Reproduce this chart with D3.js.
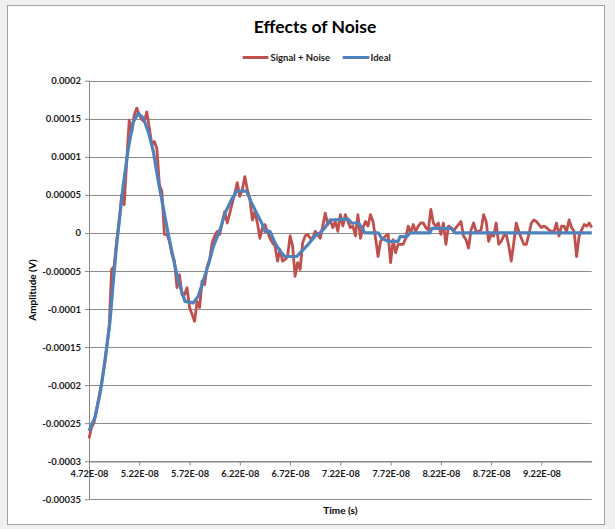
<!DOCTYPE html>
<html><head><meta charset="utf-8">
<script src="https://cdn.jsdelivr.net/npm/d3@7"></script>
<style>
html,body{margin:0;padding:0;background:#fff;}
svg{display:block;font-family:Lato,"Open Sans",sans-serif;}
</style>
</head><body>
<svg id="chart" width="615" height="529"></svg>
<script>
// ---------- data ----------
const chartTitle = "Effects of Noise";
const seriesNames = ["Signal + Noise", "Ideal"];
const seriesColors = ["#C0504D", "#4F81BD"];
const xAxisTitle = "Time (s)";
const yAxisTitle = "Amplitude (V)";

// Signal + Noise: sampled every 0.25 ns starting at 47.2 ns (values in microvolts)
const sampleStartNs = 47.2;
const sampleStepNs = 0.25;
const signalNoiseUv = [
  -270,-256,-249,-232,-214,-199,-177,-151,-125,-48,
  -44,-11,15,50,37,94,148,133,155,164,
  155,149,146,159,138,116,120,111,63,55,
  -2,-2,-11,-28,-37,-72,-55,-81,-81,-72,
  -98,-107,-116,-90,-98,-63,-68,-44,-35,-13,
  -4,2,-2,13,28,13,26,39,52,66,
  48,57,74,57,44,17,28,13,-7,7,
  11,2,-7,-13,-17,-37,-22,-37,-35,-31,
  -4,-17,-57,-39,-48,-13,-4,-2,-7,-7,
  2,-2,-7,9,26,11,17,7,15,2,
  24,9,24,15,7,9,-4,24,-7,7,
  15,9,24,15,-7,-31,-11,-7,-4,-2,
  -39,-9,-26,-15,-15,-15,-7,9,0,11,
  2,9,13,13,7,4,31,13,9,13,
  -2,13,-15,9,7,2,7,11,15,-4,
  -9,-20,4,13,2,2,4,24,15,-11,
  -2,-4,13,-15,-11,-4,-2,-17,-37,-13,
  13,2,-7,-15,-15,-2,13,17,15,11,
  7,9,7,4,2,2,13,-4,9,9,
  2,17,7,2,-31,-4,4,11,9,13,7
];

// Ideal waveform (times in ns, values in microvolts)
const idealTimeNs = [47.2,47.8,48.29,48.79,49.29,49.62,49.95,50.28,50.61,51.11,
  51.61,52.1,52.6,53.1,53.6,54.09,54.59,55.09,55.58,56.08,
  56.75,57.57,58.07,58.57,59.07,59.56,60.23,60.73,61.39,61.89,
  62.89,63.38,63.88,64.38,64.71,65.2,65.7,66.2,66.69,67.86,
  68.36,69.01,69.68,70.18,70.67,71.17,72.99,73.33,73.99,74.48,
  74.65,75.97,76.31,76.97,77.96,78.13,78.8,79.13,81.12,81.29,
  83.28,83.6,97.2];
const idealUv = [-260,-242,-212,-168,-116,-63,-15,24,63,111,
  146,157,151,133,107,68,33,-2,-33,-63,
  -90,-92,-83,-63,-42,-18,4,26,44,55,
  55,39,26,13,2,2,-13,-24,-31,-31,
  -24,-15,-4,0,7,17,18,13,13,4,
  0,0,-7,-11,-11,-5,-5,0,0,6,
  6,0,0];

const xDomainNs = [47.2, 97.2];
const xTickNs = [47.2,52.2,57.2,62.2,67.2,72.2,77.2,82.2,87.2,92.2];
const xTickLabels = ["4.72E-08","5.22E-08","5.72E-08","6.22E-08","6.72E-08",
  "7.22E-08","7.72E-08","8.22E-08","8.72E-08","9.22E-08"];
const yTickValues = [0.0002,0.00015,0.0001,0.00005,0,-0.00005,-0.0001,-0.00015,
  -0.0002,-0.00025,-0.0003,-0.00035];
const yTickLabels = ["0.0002","0.00015","0.0001","0.00005","0","-0.00005","-0.0001",
  "-0.00015","-0.0002","-0.00025","-0.0003","-0.00035"];
const xAxisCrossing = -0.0003;

// ---------- drawing ----------
const W = 615, H = 529;
const plot = {left: 89, right: 591.7, top: 80.7, bottom: 499.3};
const svg = d3.select("#chart");

svg.append("rect").attr("x",0).attr("y",0).attr("width",W).attr("height",H).attr("fill","#f0f0f0");
svg.append("rect").attr("x",7.5).attr("y",5.5).attr("width",597).attr("height",519)
  .attr("fill","#fff").attr("stroke","#a0a0a0");

const x = d3.scaleLinear().domain(xDomainNs).range([plot.left, plot.right]);
const y = d3.scaleLinear().domain([d3.min(yTickValues), d3.max(yTickValues)]).range([plot.bottom, plot.top]);

// gridlines
svg.append("g").selectAll("line").data(yTickValues).join("line")
  .attr("x1", plot.left).attr("x2", plot.right)
  .attr("y1", d => Math.round(y(d)) + 0.5).attr("y2", d => Math.round(y(d)) + 0.5)
  .attr("stroke", "#8c8c8c").attr("stroke-width", 1);

// y axis
const yAxis = svg.append("g").attr("transform", `translate(${plot.left},0)`)
  .call(d3.axisLeft(y).tickValues(yTickValues).tickFormat((d,i) => yTickLabels[i])
    .tickSize(4).tickSizeOuter(0).tickPadding(4));
yAxis.selectAll("path,line").attr("stroke", "#868686");
yAxis.select("path").attr("d", `M0.5,${plot.top}V${plot.bottom}`);
yAxis.selectAll("text").attr("font-size", 9.5).attr("font-weight", "bold").attr("fill", "#1a1a1a")
  .attr("font-family", "Lato, sans-serif");

// x axis
const xAxis = svg.append("g").attr("transform", `translate(0,${Math.round(y(xAxisCrossing)) + 0.5})`)
  .call(d3.axisBottom(x).tickValues(xTickNs).tickFormat((d,i) => xTickLabels[i])
    .tickSize(4).tickSizeOuter(0).tickPadding(5));
xAxis.selectAll("path,line").attr("stroke", "#868686");
xAxis.selectAll("text").attr("font-size", 9.3).attr("font-weight", "bold").attr("fill", "#1a1a1a")
  .attr("font-family", "Lato, sans-serif");

// series
const line = d3.line().x(d => x(d[0])).y(d => y(d[1] * 1e-6));
const noisePts = signalNoiseUv.map((v, i) => [sampleStartNs + i * sampleStepNs, v]);
const idealPts = idealUv.map((v, i) => [idealTimeNs[i], v]);
svg.append("path").datum(noisePts).attr("d", line).attr("fill", "none")
  .attr("stroke", seriesColors[0]).attr("stroke-width", 2.8).attr("stroke-linejoin", "round");
svg.append("path").datum(idealPts).attr("d", line).attr("fill", "none")
  .attr("stroke", seriesColors[1]).attr("stroke-width", 3.2).attr("stroke-linejoin", "round");

// title
svg.append("text").attr("x", 315).attr("y", 33).attr("text-anchor", "middle")
  .attr("font-size", 17.5).attr("font-weight", "bold").attr("fill", "#000").text(chartTitle);

// legend
const legendItems = [{x1: 242.7, x2: 268.3, tx: 270.5}, {x1: 342.7, x2: 369.3, tx: 370.5}];
const lg = svg.append("g");
legendItems.forEach((it, i) => {
  lg.append("line").attr("x1", it.x1).attr("x2", it.x2).attr("y1", 57.5).attr("y2", 57.5)
    .attr("stroke", seriesColors[i]).attr("stroke-width", 3);
  lg.append("text").attr("x", it.tx).attr("y", 60.8).attr("font-size", 9.5).attr("font-weight", "bold")
    .attr("fill", "#1a1a1a").text(seriesNames[i]);
});

// axis titles
svg.append("text").attr("transform", `translate(36,${(plot.top + plot.bottom) / 2}) rotate(-90)`)
  .attr("text-anchor", "middle").attr("font-size", 10).attr("font-weight", "bold").attr("fill", "#000")
  .text(yAxisTitle);
svg.append("text").attr("x", (plot.left + plot.right) / 2).attr("y", 514).attr("text-anchor", "middle")
  .attr("font-size", 10).attr("font-weight", "bold").attr("fill", "#000").text(xAxisTitle);
</script>
</body></html>
